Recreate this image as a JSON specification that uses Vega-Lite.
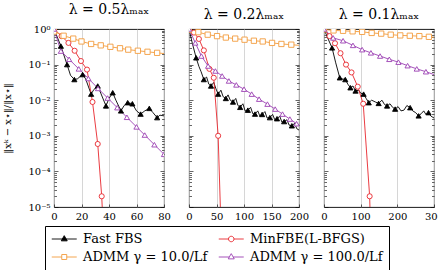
{
  "$schema": "https://vega.github.io/schema/vega-lite/v6.json",
  "padding": {"left": 2, "top": 2, "right": 0, "bottom": 0},
  "background": "white",
  "bounds": "flush",
  "spacing": 25,
  "datasets": {
    "iterates": [
      {"panel": 1, "method": "Fast FBS", "k": 0, "err": 1},
      {"panel": 1, "method": "Fast FBS", "k": 5, "err": 0.331},
      {"panel": 1, "method": "Fast FBS", "k": 9.5, "err": 0.1},
      {"panel": 1, "method": "Fast FBS", "k": 12, "err": 0.0501},
      {"panel": 1, "method": "Fast FBS", "k": 14.8, "err": 0.038},
      {"panel": 1, "method": "Fast FBS", "k": 17, "err": 0.0398},
      {"panel": 1, "method": "Fast FBS", "k": 20.8, "err": 0.0525},
      {"panel": 1, "method": "Fast FBS", "k": 23, "err": 0.0398},
      {"panel": 1, "method": "Fast FBS", "k": 27, "err": 0.0148},
      {"panel": 1, "method": "Fast FBS", "k": 29, "err": 0.02},
      {"panel": 1, "method": "Fast FBS", "k": 31.8, "err": 0.0251},
      {"panel": 1, "method": "Fast FBS", "k": 34, "err": 0.0158},
      {"panel": 1, "method": "Fast FBS", "k": 37.8, "err": 0.00692},
      {"panel": 1, "method": "Fast FBS", "k": 40, "err": 0.0112},
      {"panel": 1, "method": "Fast FBS", "k": 42.7, "err": 0.0162},
      {"panel": 1, "method": "Fast FBS", "k": 45, "err": 0.01},
      {"panel": 1, "method": "Fast FBS", "k": 48.7, "err": 0.00501},
      {"panel": 1, "method": "Fast FBS", "k": 51, "err": 0.00708},
      {"panel": 1, "method": "Fast FBS", "k": 53.6, "err": 0.00851},
      {"panel": 1, "method": "Fast FBS", "k": 57, "err": 0.00794},
      {"panel": 1, "method": "Fast FBS", "k": 60, "err": 0.00501},
      {"panel": 1, "method": "Fast FBS", "k": 63, "err": 0.00407},
      {"panel": 1, "method": "Fast FBS", "k": 66, "err": 0.00501},
      {"panel": 1, "method": "Fast FBS", "k": 69.3, "err": 0.00589},
      {"panel": 1, "method": "Fast FBS", "k": 72, "err": 0.00447},
      {"panel": 1, "method": "Fast FBS", "k": 75, "err": 0.00324},
      {"panel": 1, "method": "Fast FBS", "k": 77, "err": 0.0038},
      {"panel": 1, "method": "Fast FBS", "k": 80, "err": 0.00363},
      {"panel": 1, "method": "MinFBE(L-BFGS)", "k": 0, "err": 1},
      {"panel": 1, "method": "MinFBE(L-BFGS)", "k": 5.5, "err": 0.631},
      {"panel": 1, "method": "MinFBE(L-BFGS)", "k": 10.5, "err": 0.407},
      {"panel": 1, "method": "MinFBE(L-BFGS)", "k": 15, "err": 0.245},
      {"panel": 1, "method": "MinFBE(L-BFGS)", "k": 19.6, "err": 0.126},
      {"panel": 1, "method": "MinFBE(L-BFGS)", "k": 24, "err": 0.0724},
      {"panel": 1, "method": "MinFBE(L-BFGS)", "k": 28, "err": 0.00891},
      {"panel": 1, "method": "MinFBE(L-BFGS)", "k": 31.8, "err": 0.000589},
      {"panel": 1, "method": "MinFBE(L-BFGS)", "k": 34.7, "err": 0.00002},
      {"panel": 1, "method": "MinFBE(L-BFGS)", "k": 36.3, "err": 0.000001},
      {"panel": 1, "method": "ADMM γ = 10.0/Lf", "k": 0, "err": 0.85},
      {"panel": 1, "method": "ADMM γ = 10.0/Lf", "k": 7, "err": 0.646},
      {"panel": 1, "method": "ADMM γ = 10.0/Lf", "k": 14, "err": 0.537},
      {"panel": 1, "method": "ADMM γ = 10.0/Lf", "k": 20, "err": 0.447},
      {"panel": 1, "method": "ADMM γ = 10.0/Lf", "k": 27, "err": 0.38},
      {"panel": 1, "method": "ADMM γ = 10.0/Lf", "k": 34, "err": 0.347},
      {"panel": 1, "method": "ADMM γ = 10.0/Lf", "k": 41, "err": 0.316},
      {"panel": 1, "method": "ADMM γ = 10.0/Lf", "k": 48, "err": 0.288},
      {"panel": 1, "method": "ADMM γ = 10.0/Lf", "k": 54, "err": 0.263},
      {"panel": 1, "method": "ADMM γ = 10.0/Lf", "k": 61, "err": 0.245},
      {"panel": 1, "method": "ADMM γ = 10.0/Lf", "k": 68, "err": 0.229},
      {"panel": 1, "method": "ADMM γ = 10.0/Lf", "k": 75, "err": 0.214},
      {"panel": 1, "method": "ADMM γ = 10.0/Lf", "k": 80, "err": 0.204},
      {"panel": 1, "method": "ADMM γ = 100.0/Lf", "k": 0, "err": 1},
      {"panel": 1, "method": "ADMM γ = 100.0/Lf", "k": 5, "err": 0.24},
      {"panel": 1, "method": "ADMM γ = 100.0/Lf", "k": 11, "err": 0.141},
      {"panel": 1, "method": "ADMM γ = 100.0/Lf", "k": 18, "err": 0.0759},
      {"panel": 1, "method": "ADMM γ = 100.0/Lf", "k": 25, "err": 0.0407},
      {"panel": 1, "method": "ADMM γ = 100.0/Lf", "k": 32, "err": 0.0214},
      {"panel": 1, "method": "ADMM γ = 100.0/Lf", "k": 39, "err": 0.0115},
      {"panel": 1, "method": "ADMM γ = 100.0/Lf", "k": 46, "err": 0.00617},
      {"panel": 1, "method": "ADMM γ = 100.0/Lf", "k": 53, "err": 0.00331},
      {"panel": 1, "method": "ADMM γ = 100.0/Lf", "k": 60, "err": 0.00178},
      {"panel": 1, "method": "ADMM γ = 100.0/Lf", "k": 66, "err": 0.00105},
      {"panel": 1, "method": "ADMM γ = 100.0/Lf", "k": 73, "err": 0.000562},
      {"panel": 1, "method": "ADMM γ = 100.0/Lf", "k": 80, "err": 0.000302},

      {"panel": 2, "method": "Fast FBS", "k": 0, "err": 1},
      {"panel": 2, "method": "Fast FBS", "k": 6, "err": 0.398},
      {"panel": 2, "method": "Fast FBS", "k": 13, "err": 0.155},
      {"panel": 2, "method": "Fast FBS", "k": 18, "err": 0.0891},
      {"panel": 2, "method": "Fast FBS", "k": 22, "err": 0.0631},
      {"panel": 2, "method": "Fast FBS", "k": 27, "err": 0.038},
      {"panel": 2, "method": "Fast FBS", "k": 32, "err": 0.0447},
      {"panel": 2, "method": "Fast FBS", "k": 36, "err": 0.0282},
      {"panel": 2, "method": "Fast FBS", "k": 40, "err": 0.0251},
      {"panel": 2, "method": "Fast FBS", "k": 45, "err": 0.0316},
      {"panel": 2, "method": "Fast FBS", "k": 49, "err": 0.0209},
      {"panel": 2, "method": "Fast FBS", "k": 53, "err": 0.0148},
      {"panel": 2, "method": "Fast FBS", "k": 58, "err": 0.0191},
      {"panel": 2, "method": "Fast FBS", "k": 62, "err": 0.0126},
      {"panel": 2, "method": "Fast FBS", "k": 67, "err": 0.0112},
      {"panel": 2, "method": "Fast FBS", "k": 71, "err": 0.0141},
      {"panel": 2, "method": "Fast FBS", "k": 75, "err": 0.01},
      {"panel": 2, "method": "Fast FBS", "k": 80, "err": 0.00891},
      {"panel": 2, "method": "Fast FBS", "k": 85, "err": 0.0112},
      {"panel": 2, "method": "Fast FBS", "k": 89, "err": 0.00708},
      {"panel": 2, "method": "Fast FBS", "k": 93, "err": 0.00631},
      {"panel": 2, "method": "Fast FBS", "k": 98, "err": 0.00794},
      {"panel": 2, "method": "Fast FBS", "k": 102, "err": 0.00501},
      {"panel": 2, "method": "Fast FBS", "k": 107, "err": 0.00525},
      {"panel": 2, "method": "Fast FBS", "k": 112, "err": 0.00631},
      {"panel": 2, "method": "Fast FBS", "k": 116, "err": 0.00417},
      {"panel": 2, "method": "Fast FBS", "k": 120, "err": 0.00407},
      {"panel": 2, "method": "Fast FBS", "k": 125, "err": 0.00501},
      {"panel": 2, "method": "Fast FBS", "k": 129, "err": 0.00355},
      {"panel": 2, "method": "Fast FBS", "k": 133, "err": 0.00398},
      {"panel": 2, "method": "Fast FBS", "k": 138, "err": 0.00479},
      {"panel": 2, "method": "Fast FBS", "k": 142, "err": 0.00316},
      {"panel": 2, "method": "Fast FBS", "k": 147, "err": 0.00324},
      {"panel": 2, "method": "Fast FBS", "k": 152, "err": 0.00398},
      {"panel": 2, "method": "Fast FBS", "k": 156, "err": 0.00282},
      {"panel": 2, "method": "Fast FBS", "k": 160, "err": 0.00302},
      {"panel": 2, "method": "Fast FBS", "k": 165, "err": 0.00355},
      {"panel": 2, "method": "Fast FBS", "k": 169, "err": 0.0024},
      {"panel": 2, "method": "Fast FBS", "k": 173, "err": 0.00251},
      {"panel": 2, "method": "Fast FBS", "k": 178, "err": 0.00282},
      {"panel": 2, "method": "Fast FBS", "k": 182, "err": 0.002},
      {"panel": 2, "method": "Fast FBS", "k": 187, "err": 0.00191},
      {"panel": 2, "method": "Fast FBS", "k": 192, "err": 0.00224},
      {"panel": 2, "method": "Fast FBS", "k": 196, "err": 0.00158},
      {"panel": 2, "method": "Fast FBS", "k": 200, "err": 0.00145},
      {"panel": 2, "method": "MinFBE(L-BFGS)", "k": 0, "err": 1},
      {"panel": 2, "method": "MinFBE(L-BFGS)", "k": 9, "err": 0.794},
      {"panel": 2, "method": "MinFBE(L-BFGS)", "k": 18, "err": 0.525},
      {"panel": 2, "method": "MinFBE(L-BFGS)", "k": 27, "err": 0.251},
      {"panel": 2, "method": "MinFBE(L-BFGS)", "k": 37, "err": 0.0759},
      {"panel": 2, "method": "MinFBE(L-BFGS)", "k": 45, "err": 0.0427},
      {"panel": 2, "method": "MinFBE(L-BFGS)", "k": 53, "err": 0.001},
      {"panel": 2, "method": "MinFBE(L-BFGS)", "k": 59, "err": 0.000001},
      {"panel": 2, "method": "ADMM γ = 10.0/Lf", "k": 0, "err": 0.955},
      {"panel": 2, "method": "ADMM γ = 10.0/Lf", "k": 17, "err": 0.813},
      {"panel": 2, "method": "ADMM γ = 10.0/Lf", "k": 34, "err": 0.692},
      {"panel": 2, "method": "ADMM γ = 10.0/Lf", "k": 51, "err": 0.631},
      {"panel": 2, "method": "ADMM γ = 10.0/Lf", "k": 67, "err": 0.575},
      {"panel": 2, "method": "ADMM γ = 10.0/Lf", "k": 84, "err": 0.537},
      {"panel": 2, "method": "ADMM γ = 10.0/Lf", "k": 101, "err": 0.501},
      {"panel": 2, "method": "ADMM γ = 10.0/Lf", "k": 118, "err": 0.468},
      {"panel": 2, "method": "ADMM γ = 10.0/Lf", "k": 134, "err": 0.447},
      {"panel": 2, "method": "ADMM γ = 10.0/Lf", "k": 151, "err": 0.407},
      {"panel": 2, "method": "ADMM γ = 10.0/Lf", "k": 168, "err": 0.38},
      {"panel": 2, "method": "ADMM γ = 10.0/Lf", "k": 186, "err": 0.363},
      {"panel": 2, "method": "ADMM γ = 10.0/Lf", "k": 200, "err": 0.347},
      {"panel": 2, "method": "ADMM γ = 100.0/Lf", "k": 0, "err": 1},
      {"panel": 2, "method": "ADMM γ = 100.0/Lf", "k": 11.5, "err": 0.407},
      {"panel": 2, "method": "ADMM γ = 100.0/Lf", "k": 22.5, "err": 0.174},
      {"panel": 2, "method": "ADMM γ = 100.0/Lf", "k": 34.7, "err": 0.0912},
      {"panel": 2, "method": "ADMM γ = 100.0/Lf", "k": 48, "err": 0.0661},
      {"panel": 2, "method": "ADMM γ = 100.0/Lf", "k": 60.3, "err": 0.0479},
      {"panel": 2, "method": "ADMM γ = 100.0/Lf", "k": 72.5, "err": 0.0347},
      {"panel": 2, "method": "ADMM γ = 100.0/Lf", "k": 86, "err": 0.0269},
      {"panel": 2, "method": "ADMM γ = 100.0/Lf", "k": 100, "err": 0.0204},
      {"panel": 2, "method": "ADMM γ = 100.0/Lf", "k": 114, "err": 0.0148},
      {"panel": 2, "method": "ADMM γ = 100.0/Lf", "k": 127.4, "err": 0.0107},
      {"panel": 2, "method": "ADMM γ = 100.0/Lf", "k": 142.6, "err": 0.00776},
      {"panel": 2, "method": "ADMM γ = 100.0/Lf", "k": 156.7, "err": 0.00562},
      {"panel": 2, "method": "ADMM γ = 100.0/Lf", "k": 170, "err": 0.00407},
      {"panel": 2, "method": "ADMM γ = 100.0/Lf", "k": 183.4, "err": 0.00295},
      {"panel": 2, "method": "ADMM γ = 100.0/Lf", "k": 195.6, "err": 0.00219},
      {"panel": 2, "method": "ADMM γ = 100.0/Lf", "k": 200, "err": 0.002},

      {"panel": 3, "method": "Fast FBS", "k": 0, "err": 1},
      {"panel": 3, "method": "Fast FBS", "k": 10, "err": 0.562},
      {"panel": 3, "method": "Fast FBS", "k": 22, "err": 0.295},
      {"panel": 3, "method": "Fast FBS", "k": 32, "err": 0.112},
      {"panel": 3, "method": "Fast FBS", "k": 43, "err": 0.0427},
      {"panel": 3, "method": "Fast FBS", "k": 50, "err": 0.0398},
      {"panel": 3, "method": "Fast FBS", "k": 58, "err": 0.038},
      {"panel": 3, "method": "Fast FBS", "k": 65, "err": 0.0282},
      {"panel": 3, "method": "Fast FBS", "k": 72, "err": 0.0224},
      {"panel": 3, "method": "Fast FBS", "k": 79, "err": 0.0251},
      {"panel": 3, "method": "Fast FBS", "k": 86, "err": 0.0182},
      {"panel": 3, "method": "Fast FBS", "k": 95, "err": 0.0191},
      {"panel": 3, "method": "Fast FBS", "k": 100, "err": 0.0158},
      {"panel": 3, "method": "Fast FBS", "k": 108, "err": 0.0148},
      {"panel": 3, "method": "Fast FBS", "k": 115, "err": 0.0112},
      {"panel": 3, "method": "Fast FBS", "k": 122, "err": 0.00851},
      {"panel": 3, "method": "Fast FBS", "k": 130, "err": 0.01},
      {"panel": 3, "method": "Fast FBS", "k": 140, "err": 0.00891},
      {"panel": 3, "method": "Fast FBS", "k": 149, "err": 0.00813},
      {"panel": 3, "method": "Fast FBS", "k": 158, "err": 0.01},
      {"panel": 3, "method": "Fast FBS", "k": 165, "err": 0.00759},
      {"panel": 3, "method": "Fast FBS", "k": 172, "err": 0.00692},
      {"panel": 3, "method": "Fast FBS", "k": 180, "err": 0.00794},
      {"panel": 3, "method": "Fast FBS", "k": 187, "err": 0.00631},
      {"panel": 3, "method": "Fast FBS", "k": 194, "err": 0.00562},
      {"panel": 3, "method": "Fast FBS", "k": 202, "err": 0.00661},
      {"panel": 3, "method": "Fast FBS", "k": 210, "err": 0.00501},
      {"panel": 3, "method": "Fast FBS", "k": 218, "err": 0.00525},
      {"panel": 3, "method": "Fast FBS", "k": 226, "err": 0.00708},
      {"panel": 3, "method": "Fast FBS", "k": 235, "err": 0.00617},
      {"panel": 3, "method": "Fast FBS", "k": 242, "err": 0.00501},
      {"panel": 3, "method": "Fast FBS", "k": 250, "err": 0.00447},
      {"panel": 3, "method": "Fast FBS", "k": 258, "err": 0.00363},
      {"panel": 3, "method": "Fast FBS", "k": 265, "err": 0.00417},
      {"panel": 3, "method": "Fast FBS", "k": 272, "err": 0.00501},
      {"panel": 3, "method": "Fast FBS", "k": 278, "err": 0.00398},
      {"panel": 3, "method": "Fast FBS", "k": 285, "err": 0.00447},
      {"panel": 3, "method": "Fast FBS", "k": 292, "err": 0.00355},
      {"panel": 3, "method": "Fast FBS", "k": 300, "err": 0.00316},
      {"panel": 3, "method": "MinFBE(L-BFGS)", "k": 0, "err": 1},
      {"panel": 3, "method": "MinFBE(L-BFGS)", "k": 15, "err": 0.631},
      {"panel": 3, "method": "MinFBE(L-BFGS)", "k": 30, "err": 0.398},
      {"panel": 3, "method": "MinFBE(L-BFGS)", "k": 45, "err": 0.209},
      {"panel": 3, "method": "MinFBE(L-BFGS)", "k": 60, "err": 0.1},
      {"panel": 3, "method": "MinFBE(L-BFGS)", "k": 75, "err": 0.0603},
      {"panel": 3, "method": "MinFBE(L-BFGS)", "k": 92, "err": 0.024},
      {"panel": 3, "method": "MinFBE(L-BFGS)", "k": 107, "err": 0.00794},
      {"panel": 3, "method": "MinFBE(L-BFGS)", "k": 124.5, "err": 0.00002},
      {"panel": 3, "method": "MinFBE(L-BFGS)", "k": 128, "err": 0.000001},
      {"panel": 3, "method": "ADMM γ = 10.0/Lf", "k": 0, "err": 0.97},
      {"panel": 3, "method": "ADMM γ = 10.0/Lf", "k": 26, "err": 0.912},
      {"panel": 3, "method": "ADMM γ = 10.0/Lf", "k": 52, "err": 0.891},
      {"panel": 3, "method": "ADMM γ = 10.0/Lf", "k": 78, "err": 0.861},
      {"panel": 3, "method": "ADMM γ = 10.0/Lf", "k": 104, "err": 0.832},
      {"panel": 3, "method": "ADMM γ = 10.0/Lf", "k": 130, "err": 0.776},
      {"panel": 3, "method": "ADMM γ = 10.0/Lf", "k": 156, "err": 0.741},
      {"panel": 3, "method": "ADMM γ = 10.0/Lf", "k": 182, "err": 0.692},
      {"panel": 3, "method": "ADMM γ = 10.0/Lf", "k": 208, "err": 0.661},
      {"panel": 3, "method": "ADMM γ = 10.0/Lf", "k": 234, "err": 0.646},
      {"panel": 3, "method": "ADMM γ = 10.0/Lf", "k": 260, "err": 0.631},
      {"panel": 3, "method": "ADMM γ = 10.0/Lf", "k": 286, "err": 0.603},
      {"panel": 3, "method": "ADMM γ = 10.0/Lf", "k": 300, "err": 0.589},
      {"panel": 3, "method": "ADMM γ = 100.0/Lf", "k": 0, "err": 1},
      {"panel": 3, "method": "ADMM γ = 100.0/Lf", "k": 25, "err": 0.562},
      {"panel": 3, "method": "ADMM γ = 100.0/Lf", "k": 52, "err": 0.468},
      {"panel": 3, "method": "ADMM γ = 100.0/Lf", "k": 79, "err": 0.347},
      {"panel": 3, "method": "ADMM γ = 100.0/Lf", "k": 104, "err": 0.263},
      {"panel": 3, "method": "ADMM γ = 100.0/Lf", "k": 128, "err": 0.214},
      {"panel": 3, "method": "ADMM γ = 100.0/Lf", "k": 153, "err": 0.174},
      {"panel": 3, "method": "ADMM γ = 100.0/Lf", "k": 178, "err": 0.141},
      {"panel": 3, "method": "ADMM γ = 100.0/Lf", "k": 203, "err": 0.117},
      {"panel": 3, "method": "ADMM γ = 100.0/Lf", "k": 228, "err": 0.0933},
      {"panel": 3, "method": "ADMM γ = 100.0/Lf", "k": 253, "err": 0.0759},
      {"panel": 3, "method": "ADMM γ = 100.0/Lf", "k": 278, "err": 0.0631},
      {"panel": 3, "method": "ADMM γ = 100.0/Lf", "k": 300, "err": 0.0525}
    ],
    "sampled": [
      {"panel": 1, "method": "Fast FBS", "k": 0, "err": 1},
      {"panel": 1, "method": "Fast FBS", "k": 5, "err": 0.331},
      {"panel": 1, "method": "Fast FBS", "k": 9.5, "err": 0.1},
      {"panel": 1, "method": "Fast FBS", "k": 14.8, "err": 0.038},
      {"panel": 1, "method": "Fast FBS", "k": 20.8, "err": 0.0525},
      {"panel": 1, "method": "Fast FBS", "k": 27, "err": 0.0148},
      {"panel": 1, "method": "Fast FBS", "k": 31.8, "err": 0.0251},
      {"panel": 1, "method": "Fast FBS", "k": 37.8, "err": 0.00692},
      {"panel": 1, "method": "Fast FBS", "k": 42.7, "err": 0.0162},
      {"panel": 1, "method": "Fast FBS", "k": 48.7, "err": 0.00501},
      {"panel": 1, "method": "Fast FBS", "k": 53.6, "err": 0.00851},
      {"panel": 1, "method": "Fast FBS", "k": 57, "err": 0.00794},
      {"panel": 1, "method": "Fast FBS", "k": 63, "err": 0.00407},
      {"panel": 1, "method": "Fast FBS", "k": 69.3, "err": 0.00589},
      {"panel": 1, "method": "Fast FBS", "k": 75, "err": 0.00324},
      {"panel": 1, "method": "MinFBE(L-BFGS)", "k": 0, "err": 1},
      {"panel": 1, "method": "MinFBE(L-BFGS)", "k": 5.5, "err": 0.631},
      {"panel": 1, "method": "MinFBE(L-BFGS)", "k": 10.5, "err": 0.407},
      {"panel": 1, "method": "MinFBE(L-BFGS)", "k": 15, "err": 0.245},
      {"panel": 1, "method": "MinFBE(L-BFGS)", "k": 19.6, "err": 0.126},
      {"panel": 1, "method": "MinFBE(L-BFGS)", "k": 24, "err": 0.0724},
      {"panel": 1, "method": "MinFBE(L-BFGS)", "k": 28, "err": 0.00891},
      {"panel": 1, "method": "MinFBE(L-BFGS)", "k": 31.8, "err": 0.000589},
      {"panel": 1, "method": "MinFBE(L-BFGS)", "k": 34.7, "err": 0.00002},
      {"panel": 1, "method": "ADMM γ = 10.0/Lf", "k": 0, "err": 0.85},
      {"panel": 1, "method": "ADMM γ = 10.0/Lf", "k": 7, "err": 0.646},
      {"panel": 1, "method": "ADMM γ = 10.0/Lf", "k": 14, "err": 0.537},
      {"panel": 1, "method": "ADMM γ = 10.0/Lf", "k": 20, "err": 0.447},
      {"panel": 1, "method": "ADMM γ = 10.0/Lf", "k": 27, "err": 0.38},
      {"panel": 1, "method": "ADMM γ = 10.0/Lf", "k": 34, "err": 0.347},
      {"panel": 1, "method": "ADMM γ = 10.0/Lf", "k": 41, "err": 0.316},
      {"panel": 1, "method": "ADMM γ = 10.0/Lf", "k": 48, "err": 0.288},
      {"panel": 1, "method": "ADMM γ = 10.0/Lf", "k": 54, "err": 0.263},
      {"panel": 1, "method": "ADMM γ = 10.0/Lf", "k": 61, "err": 0.245},
      {"panel": 1, "method": "ADMM γ = 10.0/Lf", "k": 68, "err": 0.229},
      {"panel": 1, "method": "ADMM γ = 10.0/Lf", "k": 75, "err": 0.214},
      {"panel": 1, "method": "ADMM γ = 100.0/Lf", "k": 0, "err": 1},
      {"panel": 1, "method": "ADMM γ = 100.0/Lf", "k": 5, "err": 0.24},
      {"panel": 1, "method": "ADMM γ = 100.0/Lf", "k": 11, "err": 0.141},
      {"panel": 1, "method": "ADMM γ = 100.0/Lf", "k": 18, "err": 0.0759},
      {"panel": 1, "method": "ADMM γ = 100.0/Lf", "k": 25, "err": 0.0407},
      {"panel": 1, "method": "ADMM γ = 100.0/Lf", "k": 32, "err": 0.0214},
      {"panel": 1, "method": "ADMM γ = 100.0/Lf", "k": 39, "err": 0.0115},
      {"panel": 1, "method": "ADMM γ = 100.0/Lf", "k": 46, "err": 0.00617},
      {"panel": 1, "method": "ADMM γ = 100.0/Lf", "k": 53, "err": 0.00331},
      {"panel": 1, "method": "ADMM γ = 100.0/Lf", "k": 60, "err": 0.00178},
      {"panel": 1, "method": "ADMM γ = 100.0/Lf", "k": 66, "err": 0.00105},
      {"panel": 1, "method": "ADMM γ = 100.0/Lf", "k": 73, "err": 0.000562},
      {"panel": 1, "method": "ADMM γ = 100.0/Lf", "k": 80, "err": 0.000302},

      {"panel": 2, "method": "Fast FBS", "k": 0, "err": 1},
      {"panel": 2, "method": "Fast FBS", "k": 13, "err": 0.155},
      {"panel": 2, "method": "Fast FBS", "k": 27, "err": 0.038},
      {"panel": 2, "method": "Fast FBS", "k": 40, "err": 0.0251},
      {"panel": 2, "method": "Fast FBS", "k": 53, "err": 0.0148},
      {"panel": 2, "method": "Fast FBS", "k": 67, "err": 0.0112},
      {"panel": 2, "method": "Fast FBS", "k": 80, "err": 0.00891},
      {"panel": 2, "method": "Fast FBS", "k": 93, "err": 0.00631},
      {"panel": 2, "method": "Fast FBS", "k": 107, "err": 0.00525},
      {"panel": 2, "method": "Fast FBS", "k": 120, "err": 0.00407},
      {"panel": 2, "method": "Fast FBS", "k": 133, "err": 0.00398},
      {"panel": 2, "method": "Fast FBS", "k": 147, "err": 0.00324},
      {"panel": 2, "method": "Fast FBS", "k": 160, "err": 0.00302},
      {"panel": 2, "method": "Fast FBS", "k": 173, "err": 0.00251},
      {"panel": 2, "method": "Fast FBS", "k": 187, "err": 0.00191},
      {"panel": 2, "method": "MinFBE(L-BFGS)", "k": 0, "err": 1},
      {"panel": 2, "method": "MinFBE(L-BFGS)", "k": 9, "err": 0.794},
      {"panel": 2, "method": "MinFBE(L-BFGS)", "k": 18, "err": 0.525},
      {"panel": 2, "method": "MinFBE(L-BFGS)", "k": 27, "err": 0.251},
      {"panel": 2, "method": "MinFBE(L-BFGS)", "k": 37, "err": 0.0759},
      {"panel": 2, "method": "MinFBE(L-BFGS)", "k": 45, "err": 0.0427},
      {"panel": 2, "method": "MinFBE(L-BFGS)", "k": 53, "err": 0.001},
      {"panel": 2, "method": "ADMM γ = 10.0/Lf", "k": 0, "err": 0.955},
      {"panel": 2, "method": "ADMM γ = 10.0/Lf", "k": 17, "err": 0.813},
      {"panel": 2, "method": "ADMM γ = 10.0/Lf", "k": 34, "err": 0.692},
      {"panel": 2, "method": "ADMM γ = 10.0/Lf", "k": 51, "err": 0.631},
      {"panel": 2, "method": "ADMM γ = 10.0/Lf", "k": 67, "err": 0.575},
      {"panel": 2, "method": "ADMM γ = 10.0/Lf", "k": 84, "err": 0.537},
      {"panel": 2, "method": "ADMM γ = 10.0/Lf", "k": 101, "err": 0.501},
      {"panel": 2, "method": "ADMM γ = 10.0/Lf", "k": 118, "err": 0.468},
      {"panel": 2, "method": "ADMM γ = 10.0/Lf", "k": 134, "err": 0.447},
      {"panel": 2, "method": "ADMM γ = 10.0/Lf", "k": 151, "err": 0.407},
      {"panel": 2, "method": "ADMM γ = 10.0/Lf", "k": 168, "err": 0.38},
      {"panel": 2, "method": "ADMM γ = 10.0/Lf", "k": 186, "err": 0.363},
      {"panel": 2, "method": "ADMM γ = 100.0/Lf", "k": 0, "err": 1},
      {"panel": 2, "method": "ADMM γ = 100.0/Lf", "k": 11.5, "err": 0.407},
      {"panel": 2, "method": "ADMM γ = 100.0/Lf", "k": 22.5, "err": 0.174},
      {"panel": 2, "method": "ADMM γ = 100.0/Lf", "k": 34.7, "err": 0.0912},
      {"panel": 2, "method": "ADMM γ = 100.0/Lf", "k": 48, "err": 0.0661},
      {"panel": 2, "method": "ADMM γ = 100.0/Lf", "k": 60.3, "err": 0.0479},
      {"panel": 2, "method": "ADMM γ = 100.0/Lf", "k": 72.5, "err": 0.0347},
      {"panel": 2, "method": "ADMM γ = 100.0/Lf", "k": 86, "err": 0.0269},
      {"panel": 2, "method": "ADMM γ = 100.0/Lf", "k": 100, "err": 0.0204},
      {"panel": 2, "method": "ADMM γ = 100.0/Lf", "k": 114, "err": 0.0148},
      {"panel": 2, "method": "ADMM γ = 100.0/Lf", "k": 127.4, "err": 0.0107},
      {"panel": 2, "method": "ADMM γ = 100.0/Lf", "k": 142.6, "err": 0.00776},
      {"panel": 2, "method": "ADMM γ = 100.0/Lf", "k": 156.7, "err": 0.00562},
      {"panel": 2, "method": "ADMM γ = 100.0/Lf", "k": 170, "err": 0.00407},
      {"panel": 2, "method": "ADMM γ = 100.0/Lf", "k": 183.4, "err": 0.00295},
      {"panel": 2, "method": "ADMM γ = 100.0/Lf", "k": 195.6, "err": 0.00219},

      {"panel": 3, "method": "Fast FBS", "k": 0, "err": 1},
      {"panel": 3, "method": "Fast FBS", "k": 22, "err": 0.295},
      {"panel": 3, "method": "Fast FBS", "k": 43, "err": 0.0427},
      {"panel": 3, "method": "Fast FBS", "k": 58, "err": 0.038},
      {"panel": 3, "method": "Fast FBS", "k": 72, "err": 0.0224},
      {"panel": 3, "method": "Fast FBS", "k": 86, "err": 0.0182},
      {"panel": 3, "method": "Fast FBS", "k": 108, "err": 0.0148},
      {"panel": 3, "method": "Fast FBS", "k": 122, "err": 0.00851},
      {"panel": 3, "method": "Fast FBS", "k": 149, "err": 0.00813},
      {"panel": 3, "method": "Fast FBS", "k": 172, "err": 0.00692},
      {"panel": 3, "method": "Fast FBS", "k": 194, "err": 0.00562},
      {"panel": 3, "method": "Fast FBS", "k": 235, "err": 0.00617},
      {"panel": 3, "method": "Fast FBS", "k": 258, "err": 0.00363},
      {"panel": 3, "method": "Fast FBS", "k": 285, "err": 0.00447},
      {"panel": 3, "method": "MinFBE(L-BFGS)", "k": 0, "err": 1},
      {"panel": 3, "method": "MinFBE(L-BFGS)", "k": 15, "err": 0.631},
      {"panel": 3, "method": "MinFBE(L-BFGS)", "k": 30, "err": 0.398},
      {"panel": 3, "method": "MinFBE(L-BFGS)", "k": 45, "err": 0.209},
      {"panel": 3, "method": "MinFBE(L-BFGS)", "k": 60, "err": 0.1},
      {"panel": 3, "method": "MinFBE(L-BFGS)", "k": 75, "err": 0.0603},
      {"panel": 3, "method": "MinFBE(L-BFGS)", "k": 92, "err": 0.024},
      {"panel": 3, "method": "MinFBE(L-BFGS)", "k": 107, "err": 0.00794},
      {"panel": 3, "method": "MinFBE(L-BFGS)", "k": 124.5, "err": 0.00002},
      {"panel": 3, "method": "ADMM γ = 10.0/Lf", "k": 0, "err": 0.97},
      {"panel": 3, "method": "ADMM γ = 10.0/Lf", "k": 26, "err": 0.912},
      {"panel": 3, "method": "ADMM γ = 10.0/Lf", "k": 52, "err": 0.891},
      {"panel": 3, "method": "ADMM γ = 10.0/Lf", "k": 78, "err": 0.861},
      {"panel": 3, "method": "ADMM γ = 10.0/Lf", "k": 104, "err": 0.832},
      {"panel": 3, "method": "ADMM γ = 10.0/Lf", "k": 130, "err": 0.776},
      {"panel": 3, "method": "ADMM γ = 10.0/Lf", "k": 156, "err": 0.741},
      {"panel": 3, "method": "ADMM γ = 10.0/Lf", "k": 182, "err": 0.692},
      {"panel": 3, "method": "ADMM γ = 10.0/Lf", "k": 208, "err": 0.661},
      {"panel": 3, "method": "ADMM γ = 10.0/Lf", "k": 234, "err": 0.646},
      {"panel": 3, "method": "ADMM γ = 10.0/Lf", "k": 260, "err": 0.631},
      {"panel": 3, "method": "ADMM γ = 10.0/Lf", "k": 286, "err": 0.603},
      {"panel": 3, "method": "ADMM γ = 100.0/Lf", "k": 0, "err": 1},
      {"panel": 3, "method": "ADMM γ = 100.0/Lf", "k": 25, "err": 0.562},
      {"panel": 3, "method": "ADMM γ = 100.0/Lf", "k": 52, "err": 0.468},
      {"panel": 3, "method": "ADMM γ = 100.0/Lf", "k": 79, "err": 0.347},
      {"panel": 3, "method": "ADMM γ = 100.0/Lf", "k": 104, "err": 0.263},
      {"panel": 3, "method": "ADMM γ = 100.0/Lf", "k": 128, "err": 0.214},
      {"panel": 3, "method": "ADMM γ = 100.0/Lf", "k": 153, "err": 0.174},
      {"panel": 3, "method": "ADMM γ = 100.0/Lf", "k": 178, "err": 0.141},
      {"panel": 3, "method": "ADMM γ = 100.0/Lf", "k": 203, "err": 0.117},
      {"panel": 3, "method": "ADMM γ = 100.0/Lf", "k": 228, "err": 0.0933},
      {"panel": 3, "method": "ADMM γ = 100.0/Lf", "k": 253, "err": 0.0759},
      {"panel": 3, "method": "ADMM γ = 100.0/Lf", "k": 278, "err": 0.0631}
    ]
  },
  "hconcat": [
    {
      "width": 110,
      "height": 178,
      "title": "λ = 0.5λₘₐₓ",
      "encoding": {
        "x": {"field": "k", "type": "quantitative", "scale": {"domain": [0, 80], "nice": false}, "axis": {"values": [0, 20, 40, 60, 80], "title": null}}
      },
      "layer": [
        {
          "data": {"name": "iterates"},
          "transform": [{"filter": "datum.panel == 1"}],
          "mark": {"type": "line", "strokeWidth": 0.9, "clip": true},
          "encoding": {
            "y": {"field": "err", "type": "quantitative", "scale": {"type": "log", "domain": [0.00001, 1], "nice": false},
              "axis": {"orient": "left", "title": "‖xᵏ − x⋆‖/‖x⋆‖", "labelExpr": "abs(log(datum.value)/LN10 - round(log(datum.value)/LN10)) < 0.001 ? ['10⁰','10⁻¹','10⁻²','10⁻³','10⁻⁴','10⁻⁵'][round(-log(datum.value)/LN10)] : ''"}},
            "stroke": {"field": "method", "type": "nominal",
              "scale": {"domain": ["Fast FBS", "MinFBE(L-BFGS)", "ADMM γ = 10.0/Lf", "ADMM γ = 100.0/Lf"], "range": ["#000000", "#e8262d", "#f39c3d", "#9b3fb2"]},
              "legend": {
                "direction": "horizontal",
                "encode": {
                  "symbols": {
                    "update": {
                      "shape": {"signal": "datum.value === 'Fast FBS' ? 'M-1,0H3M1,-0.54L1.48,0.3L0.52,0.3Z' : datum.value === 'MinFBE(L-BFGS)' ? 'M-1,0H0.56M1.44,0H3M0.56,0A0.44,0.44 0 1,0 1.44,0A0.44,0.44 0 1,0 0.56,0Z' : datum.value === 'ADMM γ = 10.0/Lf' ? 'M-1,0H0.6M1.4,0H3M0.6,-0.4H1.4V0.4H0.6Z' : 'M-1,0H0.69M1.31,0H3M1,-0.54L1.48,0.3L0.52,0.3Z'"},
                      "fill": {"signal": "datum.value === 'Fast FBS' ? 'black' : 'white'"},
                      "size": {"value": 156}
                    }
                  }
                }
              }},
            "order": {"field": "k"}
          }
        },
        {
          "data": {"name": "sampled"},
          "transform": [{"filter": "datum.panel == 1"}],
          "mark": {"type": "point", "filled": true, "strokeWidth": 0.9, "opacity": 1, "clip": true},
          "encoding": {
            "y": {"field": "err", "type": "quantitative", "axis": {"orient": "right", "labels": false, "grid": false, "title": null}},
            "stroke": {"field": "method", "type": "nominal", "legend": null},
            "shape": {"field": "method", "type": "nominal", "scale": {"range": ["square", "triangle-up", "triangle-up", "circle"]}, "legend": null},
            "fill": {"field": "method", "type": "nominal", "scale": {"range": ["#ffffff", "#ffffff", "#000000", "#ffffff"]}, "legend": null},
            "size": {"field": "method", "type": "nominal", "scale": {"range": [28, 26, 26, 32]}, "legend": null}
          }
        }
      ],
      "resolve": {"axis": {"y": "independent"}}
    },
    {
      "width": 110,
      "height": 178,
      "title": "λ = 0.2λₘₐₓ",
      "encoding": {
        "x": {"field": "k", "type": "quantitative", "scale": {"domain": [0, 200], "nice": false}, "axis": {"values": [0, 50, 100, 150, 200], "title": null}}
      },
      "layer": [
        {
          "data": {"name": "iterates"},
          "transform": [{"filter": "datum.panel == 2"}],
          "mark": {"type": "line", "strokeWidth": 0.9, "clip": true},
          "encoding": {
            "y": {"field": "err", "type": "quantitative", "scale": {"type": "log", "domain": [0.00001, 1], "nice": false}, "axis": {"orient": "left", "labels": false, "title": null}},
            "stroke": {"field": "method", "type": "nominal", "legend": null},
            "order": {"field": "k"}
          }
        },
        {
          "data": {"name": "sampled"},
          "transform": [{"filter": "datum.panel == 2"}],
          "mark": {"type": "point", "filled": true, "strokeWidth": 0.9, "opacity": 1, "clip": true},
          "encoding": {
            "y": {"field": "err", "type": "quantitative", "axis": {"orient": "right", "labels": false, "grid": false, "title": null}},
            "stroke": {"field": "method", "type": "nominal", "legend": null},
            "shape": {"field": "method", "type": "nominal", "legend": null},
            "fill": {"field": "method", "type": "nominal", "legend": null},
            "size": {"field": "method", "type": "nominal", "legend": null}
          }
        }
      ],
      "resolve": {"axis": {"y": "independent"}}
    },
    {
      "width": 110,
      "height": 178,
      "title": "λ = 0.1λₘₐₓ",
      "encoding": {
        "x": {"field": "k", "type": "quantitative", "scale": {"domain": [0, 300], "nice": false}, "axis": {"values": [0, 100, 200, 300], "title": null}}
      },
      "layer": [
        {
          "data": {"name": "iterates"},
          "transform": [{"filter": "datum.panel == 3"}],
          "mark": {"type": "line", "strokeWidth": 0.9, "clip": true},
          "encoding": {
            "y": {"field": "err", "type": "quantitative", "scale": {"type": "log", "domain": [0.00001, 1], "nice": false}, "axis": {"orient": "left", "labels": false, "title": null}},
            "stroke": {"field": "method", "type": "nominal", "legend": null},
            "order": {"field": "k"}
          }
        },
        {
          "data": {"name": "sampled"},
          "transform": [{"filter": "datum.panel == 3"}],
          "mark": {"type": "point", "filled": true, "strokeWidth": 0.9, "opacity": 1, "clip": true},
          "encoding": {
            "y": {"field": "err", "type": "quantitative", "axis": {"orient": "right", "labels": false, "grid": false, "title": null}},
            "stroke": {"field": "method", "type": "nominal", "legend": null},
            "shape": {"field": "method", "type": "nominal", "legend": null},
            "fill": {"field": "method", "type": "nominal", "legend": null},
            "size": {"field": "method", "type": "nominal", "legend": null}
          }
        }
      ],
      "resolve": {"axis": {"y": "independent"}}
    }
  ],
  "config": {
    "font": "DejaVu Serif",
    "view": {"stroke": "black", "strokeWidth": 0.9},
    "title": {"font": "DejaVu Serif", "fontSize": 14, "fontWeight": "normal", "offset": 7, "color": "black"},
    "axis": {
      "domain": false,
      "grid": true,
      "gridColor": "#cccccc",
      "gridWidth": 0.8,
      "tickColor": "black",
      "tickWidth": 0.6,
      "tickSize": -3,
      "labelFont": "DejaVu Serif",
      "labelFontSize": 10,
      "labelColor": "black",
      "labelOverlap": false,
      "labelFlush": false,
      "titleFont": "DejaVu Serif",
      "titleFontSize": 10,
      "titleFontWeight": "normal",
      "titleColor": "black"
    },
    "axisY": {
      "values": [0.00001, 0.00002, 0.00003, 0.00004, 0.00005, 0.00006, 0.00007, 0.00008, 0.00009,
                 0.0001, 0.0002, 0.0003, 0.0004, 0.0005, 0.0006, 0.0007, 0.0008, 0.0009,
                 0.001, 0.002, 0.003, 0.004, 0.005, 0.006, 0.007, 0.008, 0.009,
                 0.01, 0.02, 0.03, 0.04, 0.05, 0.06, 0.07, 0.08, 0.09,
                 0.1, 0.2, 0.3, 0.4, 0.5, 0.6, 0.7, 0.8, 0.9, 1],
      "gridOpacity": {"condition": {"test": "abs(log(datum.value)/LN10 - round(log(datum.value)/LN10)) < 0.001", "value": 1}, "value": 0},
      "tickSize": {"condition": {"test": "abs(log(datum.value)/LN10 - round(log(datum.value)/LN10)) < 0.001", "value": -4}, "value": -2.5},
      "labelPadding": 8,
      "titlePadding": 15
    },
    "axisX": {"labelPadding": 7},
    "legend": {
      "title": null,
      "orient": "none",
      "legendX": -9,
      "legendY": 197,
      "columns": 2,
      "symbolSize": 156,
      "symbolStrokeWidth": 0.9,
      "labelFont": "DejaVu Serif",
      "labelFontSize": 13,
      "labelColor": "black",
      "labelLimit": 300,
      "labelOffset": 18,
      "columnPadding": 8,
      "rowPadding": 4,
      "strokeColor": "black",
      "fillColor": "white",
      "padding": 6
    }
  }
}
